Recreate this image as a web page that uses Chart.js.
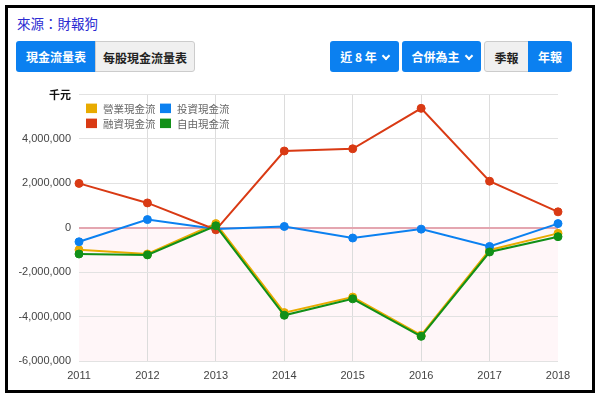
<!DOCTYPE html>
<html>
<head>
<meta charset="utf-8">
<script src="https://cdn.jsdelivr.net/npm/chart.js@4.4.1/dist/chart.umd.min.js"></script>
<style>
  body { margin: 0; width: 600px; height: 395px; background: #fff; position: relative; overflow: hidden;
         font-family: "Noto Sans CJK TC", "Noto Sans", sans-serif; }
  .frame { position: absolute; left: 5px; top: 5px; width: 590px; height: 388px; border: 3px solid #000; box-sizing: border-box; }
  .src { position: absolute; left: 17px; top: 13px; font-size: 13.5px; line-height: 20px; color: #2b2bd2; }
  .btn { position: absolute; top: 41px; height: 31px; line-height: 31px; font-size: 12px; text-align: center; box-sizing: border-box; }
  .blue { background: #0b80f0; color: #fff; font-weight: bold; }
  .gray { background: #f0f0f0; color: #222; border: 1px solid #ccc; font-weight: bold; }
  .chev { display: inline-block; width: 4px; height: 4px; border-right: 2px solid #fff; border-bottom: 2px solid #fff;
          transform: rotate(45deg); margin-left: 6px; position: relative; top: -3px; }
  .wrap { position: absolute; left: 0; top: 80px; width: 600px; height: 310px; }
</style>
</head>
<body>
<div class="frame"></div>
<div class="src">來源：財報狗</div>
<div class="btn blue" style="left:16px;width:80px;border-radius:3px 0 0 3px;">現金流量表</div>
<div class="btn gray" style="left:95px;width:100px;border-radius:0 3px 3px 0;">每股現金流量表</div>
<div class="btn blue" style="left:330px;width:69px;border-radius:3px;">近 8 年<span class="chev"></span></div>
<div class="btn blue" style="left:402px;width:79px;border-radius:3px;">合併為主<span class="chev"></span></div>
<div class="btn gray" style="left:484px;width:45px;border-radius:3px 0 0 3px;">季報</div>
<div class="btn blue" style="left:528px;width:44px;border-radius:0 3px 3px 0;">年報</div>
<div class="wrap"><canvas id="chart"></canvas></div>
<script>
const years = ['2011', '2012', '2013', '2014', '2015', '2016', '2017', '2018'];
const operating = [-990000, -1180000, 190000, -3820000, -3120000, -4840000, -1000000, -250000];
const investing = [-630000, 370000, -50000, 60000, -460000, -60000, -840000, 190000];
const financing = [2000000, 1120000, -90000, 3460000, 3560000, 5380000, 2100000, 720000];
const freeCash = [-1180000, -1220000, 90000, -3940000, -3200000, -4890000, -1090000, -400000];
const seriesNames = ['營業現金流', '投資現金流', '融資現金流', '自由現金流'];
const seriesColors = ['#e8ab00', '#0b80f0', '#d93a14', '#129018'];
const yUnit = '千元';

const line = (i, data, order) => ({
  label: seriesNames[i],
  data,
  order,
  borderColor: seriesColors[i],
  backgroundColor: seriesColors[i],
  borderWidth: 2,
  pointRadius: 4,
  pointBorderWidth: 1,
  tension: 0,
});

const shadeBelowZero = {
  id: 'shadeBelowZero',
  beforeDraw(chart) {
    const { ctx, chartArea, scales } = chart;
    const zero = scales.y.getPixelForValue(0);
    ctx.save();
    ctx.fillStyle = '#fff6f8';
    ctx.fillRect(chartArea.left, zero, chartArea.right - chartArea.left, chartArea.bottom - zero);
    ctx.restore();
  },
};

const cornerLegend = {
  id: 'cornerLegend',
  afterDraw(chart) {
    const { ctx, chartArea } = chart;
    ctx.save();
    ctx.font = '10.5px "Noto Sans CJK TC"';
    ctx.textBaseline = 'middle';
    chart.data.datasets.forEach((ds, i) => {
      const x = chartArea.left + 7 + (i % 2) * 74;
      const y = chartArea.top + 9 + Math.floor(i / 2) * 15;
      ctx.fillStyle = ds.borderColor;
      ctx.fillRect(x, y, 11, 9.5);
      ctx.fillStyle = '#666';
      ctx.fillText(ds.label, x + 17, y + 5);
    });
    ctx.restore();
  },
};

new Chart(document.getElementById('chart'), {
  type: 'line',
  data: {
    labels: years,
    datasets: [
      line(0, operating, 4),
      line(1, investing, 3),
      line(2, financing, 2),
      line(3, freeCash, 1),
    ],
  },
  options: {
    responsive: true,
    maintainAspectRatio: false,
    animation: false,
    layout: { padding: { top: 13, right: 42, left: 0, bottom: 0 } },
    plugins: { legend: { display: false }, tooltip: { enabled: false } },
    scales: {
      x: {
        afterFit: (scale) => { scale.height = 29; },
        border: { display: false },
        grid: {
          drawTicks: false,
          color: (c) => (c.index === 0 || c.index === years.length - 1 ? 'rgba(0,0,0,0)' : '#dcdcdc'),
        },
        ticks: { padding: 8, color: '#444', font: { family: '"Liberation Sans", Arial', size: 11 } },
      },
      y: {
        min: -6000000,
        max: 6000000,
        afterFit: (scale) => { scale.width = 79; },
        border: { display: false },
        grid: {
          drawTicks: false,
          color: (c) => (c.tick && c.tick.value === 0 ? '#e4a6b0' : '#e2e2e2'),
          lineWidth: (c) => (c.tick && c.tick.value === 0 ? 2 : 1),
        },
        ticks: {
          stepSize: 2000000,
          padding: 8,
          color: (c) => (c.tick && c.tick.value === 6000000 ? '#111' : '#444'),
          font: (c) => (c.tick && c.tick.value === 6000000
            ? { family: '"Noto Sans CJK TC"', size: 11, weight: 'bold' }
            : { family: '"Liberation Sans", Arial', size: 11 }),
          callback: (v) => (v === 6000000 ? yUnit : v.toLocaleString('en-US')),
        },
      },
    },
  },
  plugins: [shadeBelowZero, cornerLegend],
});
</script>
</body>
</html>
